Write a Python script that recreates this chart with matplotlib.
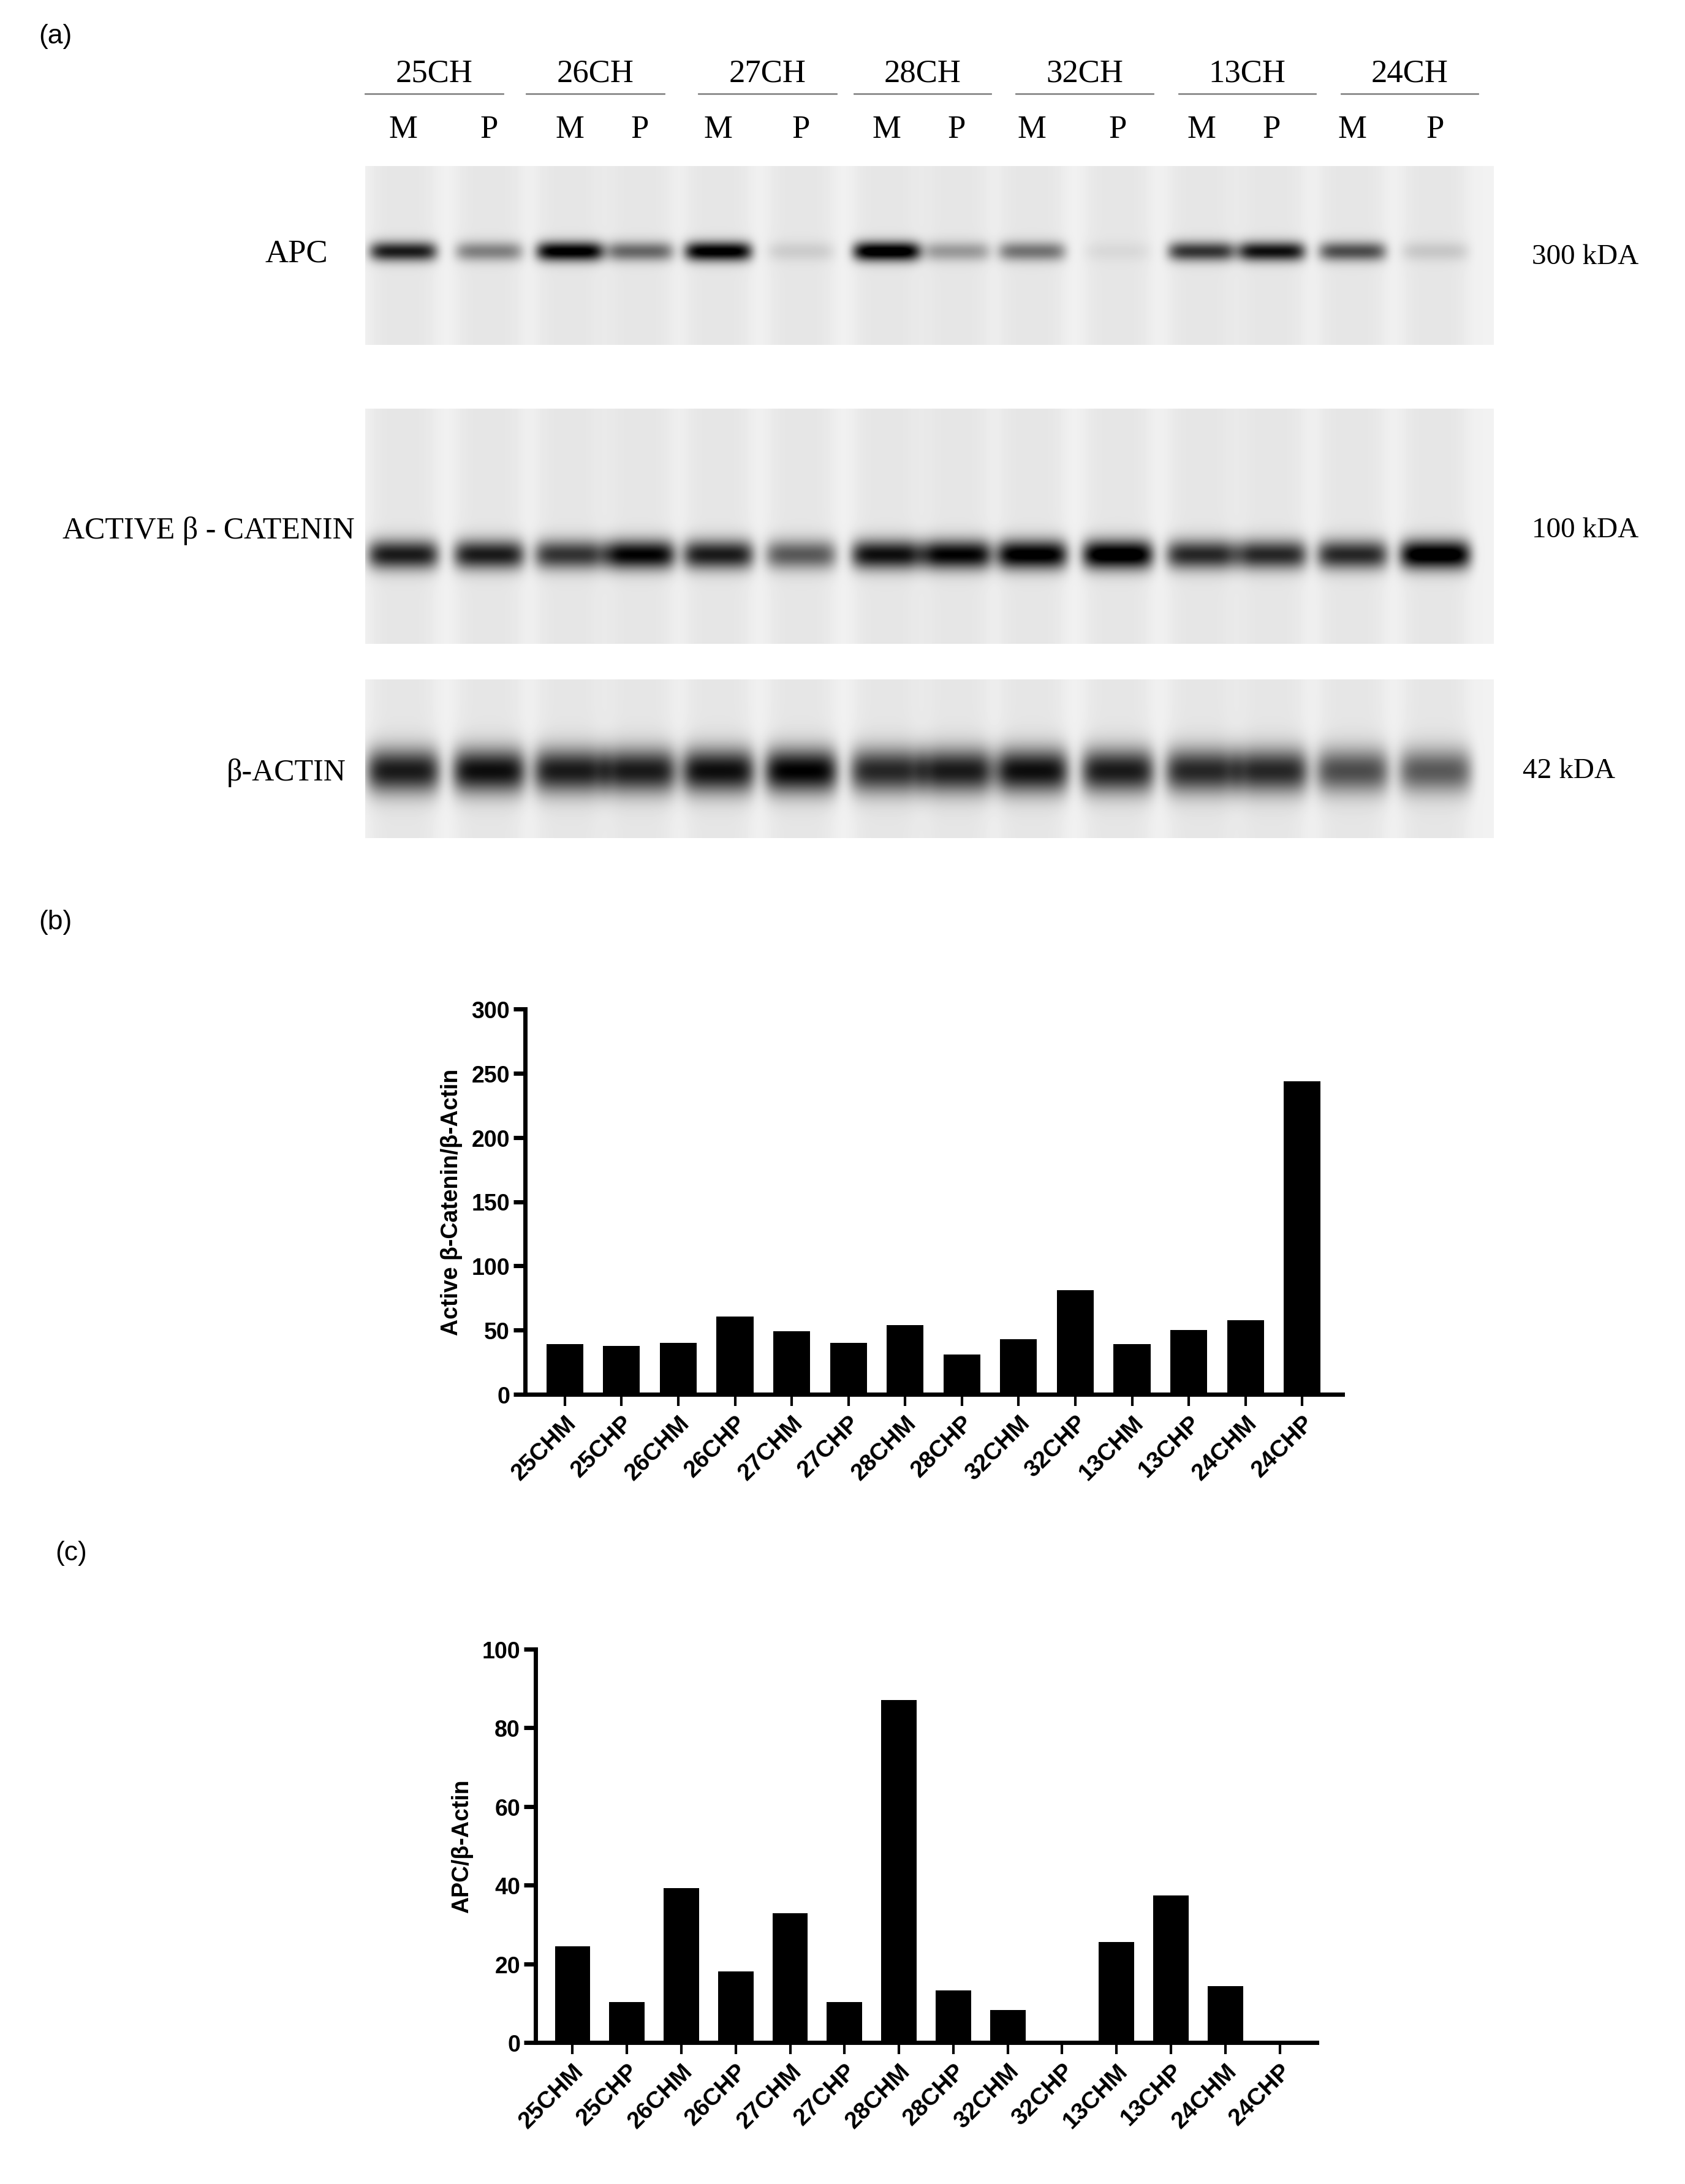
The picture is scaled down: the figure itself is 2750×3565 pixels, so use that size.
import numpy as np
import matplotlib
matplotlib.use("Agg")
import matplotlib.pyplot as plt

W, H = 2750, 3566

# sample names
groups = ["25CH", "26CH", "27CH", "28CH", "32CH", "13CH", "24CH"]
samples = ["25CHM", "25CHP", "26CHM", "26CHP", "27CHM", "27CHP", "28CHM",
           "28CHP", "32CHM", "32CHP", "13CHM", "13CHP", "24CHM", "24CHP"]

catenin_ratio = [39, 37.6, 40, 60.5, 49, 40, 54, 31, 43, 81, 39, 50, 57.5, 243.7]
apc_ratio = [24.4, 10.3, 39.3, 18.1, 32.8, 10.3, 87.1, 13.3, 8.3, 0, 25.5, 37.4, 14.3, 0]

# approximate band darkness in the blot picture (0 = none, 1 = black)
apc_band = [0.8, 0.4, 0.95, 0.5, 0.95, 0.1, 1.0, 0.3, 0.45, 0.05, 0.7, 0.85, 0.6, 0.12]
catenin_band = [0.8, 0.8, 0.7, 0.9, 0.8, 0.55, 0.85, 0.9, 0.95, 1.0, 0.75, 0.75, 0.75, 1.0]
actin_band = [0.8, 0.85, 0.8, 0.8, 0.85, 0.9, 0.75, 0.8, 0.85, 0.8, 0.75, 0.75, 0.6, 0.55]

lane_x = [658, 798, 930, 1044, 1172, 1307, 1447, 1561, 1684, 1824, 1961, 2075, 2207, 2342]
span_x = [(596, 821), (859, 1084), (1140, 1365), (1394, 1617), (1658, 1882), (1924, 2147), (2189, 2412)]


def box(x0, y0, x1, y1):
    return [x0 / W, 1 - y1 / H, (x1 - x0) / W, (y1 - y0) / H]


fig = plt.figure(figsize=(W / 100, H / 100), dpi=100)
over = fig.add_axes([0, 0, 1, 1])
over.set_xlim(0, W)
over.set_ylim(H, 0)
over.axis("off")

serif = "Liberation Serif"
sans = "Liberation Sans"

over.text(63, 60, "(a)", fontsize=32, family=sans, va="center")
over.text(63, 1506, "(b)", fontsize=32, family=sans, va="center")
over.text(90, 2536, "(c)", fontsize=32, family=sans, va="center")

for g, (a, b) in zip(groups, span_x):
    over.text((a + b) / 2, 120, g, fontsize=38, family=serif, ha="center", va="center")
    over.plot([a, b], [154, 154], color="#888888", lw=2)
for i, x in enumerate(lane_x):
    over.text(x, 212, "M" if i % 2 == 0 else "P", fontsize=38, family=serif,
              ha="center", va="center")


# blot strips
def strip(y0, y1, band_y, dark, bw, bh):
    ax = fig.add_axes(box(596, y0, 2438, y1))
    xs = np.arange(596, 2438)
    ys = np.arange(y0, y1)
    X, Y = np.meshgrid(xs, ys)
    img = np.full(X.shape, 0.05)
    for x, d in zip(lane_x, dark):
        img += 0.05 * np.exp(-((X - x) / 55.0) ** 4)
        img += d * np.exp(-((X - x) / bw) ** 6 - ((Y - band_y) / bh) ** 2)
    img = np.clip(img, 0, 1)
    ax.imshow(1 - img, cmap="gray", vmin=0, vmax=1, aspect="auto",
              extent=[596, 2438, y1, y0], interpolation="bilinear")
    ax.axis("off")


strip(272, 564, 411, apc_band, 55, 16)
strip(668, 1052, 906, catenin_band, 58, 24)
strip(1110, 1369, 1259, actin_band, 60, 36)

over.text(535, 415, "APC", fontsize=38, family=serif, ha="right", va="center")
over.text(579, 866, "ACTIVE β - CATENIN", fontsize=36, family=serif, ha="right", va="center")
over.text(565, 1262, "β-ACTIN", fontsize=36, family=serif, ha="right", va="center")
over.text(2500, 420, "300 kDA", fontsize=34, family=serif, va="center")
over.text(2500, 866, "100 kDA", fontsize=34, family=serif, va="center")
over.text(2485, 1259, "42 kDA", fontsize=34, family=serif, va="center")


def bars(rect, vals, ymax, step, ylabel, xl):
    ax = fig.add_axes(box(*rect))
    x = np.arange(len(samples))
    ax.bar(x, vals, width=0.65, color="black")
    ax.set_xlim(*xl)
    ax.set_ylim(0, ymax)
    ax.set_yticks(np.arange(0, ymax + 1, step))
    ax.set_xticks(x)
    ax.set_xticklabels(samples, rotation=45, ha="right", rotation_mode="anchor")
    for s in ["top", "right"]:
        ax.spines[s].set_visible(False)
    for s in ["left", "bottom"]:
        ax.spines[s].set_linewidth(5)
    ax.tick_params(axis="y", width=5, length=14, labelsize=27, pad=4)
    ax.tick_params(axis="x", width=3, length=14, labelsize=28, pad=6)
    for t in ax.get_xticklabels() + ax.get_yticklabels():
        t.set_fontfamily(sans)
        t.set_fontweight("bold")
    ax.set_ylabel(ylabel, fontsize=27, family=sans, fontweight="bold", labelpad=10)
    return ax


bars((857, 1648, 2191, 2277), catenin_ratio, 300, 50, "Active β-Catenin/β-Actin", (-0.7, 13.71))
bars((874, 2693, 2149, 3335), apc_ratio, 100, 20, "APC/β-Actin", (-0.68, 13.68))

fig.savefig("out.png", dpi=100)
